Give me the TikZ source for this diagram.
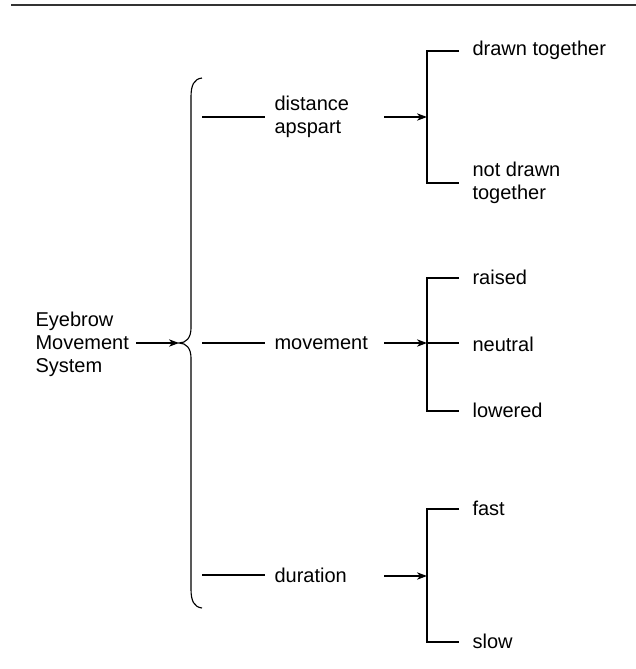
\documentclass[tikz,border=0pt]{standalone}
\usepackage{fontspec}
\setmainfont{Liberation Sans}
\usetikzlibrary{arrows.meta}
\begin{document}
\begin{tikzpicture}[x=0.75pt,y=-0.75pt,line width=0.85pt,
  lbl/.style={anchor=west,inner sep=0pt,align=left,
    font=\fontsize{15}{17.25}\selectfont},
  arr/.style={-{Stealth[length=7.5pt,width=5.5pt,inset=2.2pt]}},
  tick/.style={line width=0.85pt}]
\useasboundingbox (0,0) rectangle (636,669);

% header rule
\coordinate (ruleL) at (11,5);
\coordinate (ruleR) at (636,5);
\draw[line width=1.1pt,black!80] (ruleL) -- (ruleR);

% root
\node[lbl] (root) at (35,344) {Eyebrow\\Movement\\System};

% main brace
\coordinate (brTop) at (202,78);
\coordinate (brTip) at (179,343);
\coordinate (brBot) at (202,608);
\draw (brTop) .. controls (194,79) and (191,85) .. (191,97) -- (191,328)
  .. controls (191,338) and (186,343) .. (brTip)
  .. controls (186,343) and (191,348) .. (191,358) -- (191,589)
  .. controls (191,601) and (194,607) .. (brBot);
\draw[arr] ([xshift=5pt]root.east |- brTip) -- (brTip);

% first-level branches
\coordinate (b1) at (202,117);
\coordinate (b2) at (202,343);
\coordinate (b3) at (202,575);
\node[lbl] (dist) at (274,117) {distance\\apspart};
\node[lbl] (move) at (274,343) {movement};
\node[lbl] (dur)  at (274,575) {duration};
\draw (b1) -- ([xshift=-6.75pt]dist.west);
\draw (b2) -- ([xshift=-6.75pt]move.west);
\draw (b3) -- ([xshift=-6.75pt]dur.west);

% arrows into the second-level brackets
\coordinate (a1) at (384,117);
\coordinate (a2) at (384,343);
\coordinate (a3) at (384,576);
\coordinate (k1) at (427,117);
\coordinate (k2) at (427,343);
\coordinate (k3) at (427,576);
\draw[arr] (a1) -- (k1);
\draw[arr] (a2) -- (k2);
\draw[arr] (a3) -- (k3);

% second-level labels
\node[lbl] (t11) at (472,50)  {drawn together};
\node[lbl] (t12) at (472,183) {not drawn\\together};
\node[lbl] (t21) at (472,277) {raised};
\node[lbl] (t22) at (472,344) {neutral};
\node[lbl] (t23) at (472,410) {lowered};
\node[lbl] (t31) at (472,508) {fast};
\node[lbl] (t32) at (472,641) {slow};

% bracket for distance apart
\coordinate (k1t) at (427,51);
\coordinate (k1b) at (427,183);
\draw[tick] ([xshift=-9.75pt]t11.west |- k1t) -- (k1t) -- (k1b) -- ([xshift=-9.75pt]t12.west |- k1b);

% bracket for movement
\coordinate (k2t) at (427,278);
\coordinate (k2b) at (427,411);
\draw[tick] ([xshift=-9.75pt]t21.west |- k2t) -- (k2t) -- (k2b) -- ([xshift=-9.75pt]t23.west |- k2b);
\draw[tick] (k2) -- ([xshift=-9.75pt]t22.west |- k2);

% bracket for duration
\coordinate (k3t) at (427,509);
\coordinate (k3b) at (427,642);
\draw[tick] ([xshift=-9.75pt]t31.west |- k3t) -- (k3t) -- (k3b) -- ([xshift=-9.75pt]t32.west |- k3b);
\end{tikzpicture}
\end{document}
